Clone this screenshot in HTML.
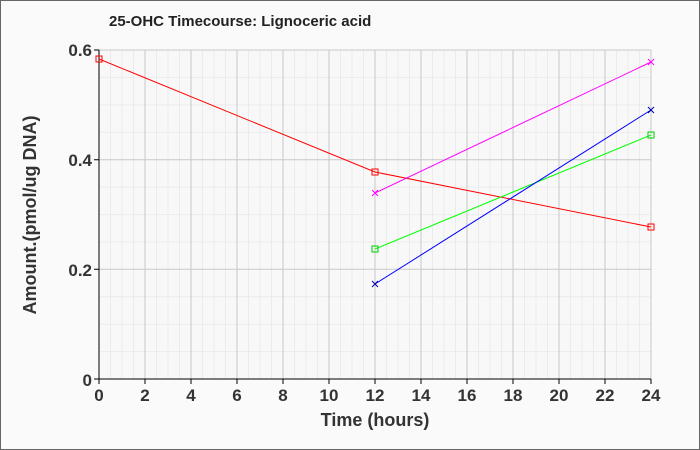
<!DOCTYPE html><html><head><style>body{margin:0;background:#fafafa}svg{display:block}</style></head><body>
<svg width="700" height="450" xmlns="http://www.w3.org/2000/svg" font-family="Liberation Sans, sans-serif">
<rect x="0.5" y="0.5" width="699" height="449" fill="#fafafa" stroke="#666"/>
<rect x="99" y="50" width="552" height="329" fill="#f8f8f8"/>
<g stroke="#ebebeb">
<path d="M110.5,50V379M122,50V379M133.5,50V379M156.5,50V379M168,50V379M179.5,50V379M202.5,50V379M214,50V379M225.5,50V379M248.5,50V379M260,50V379M271.5,50V379M294.5,50V379M306,50V379M317.5,50V379M340.5,50V379M352,50V379M363.5,50V379M386.5,50V379M398,50V379M409.5,50V379M432.5,50V379M444,50V379M455.5,50V379M478.5,50V379M490,50V379M501.5,50V379M524.5,50V379M536,50V379M547.5,50V379M570.5,50V379M582,50V379M593.5,50V379M616.5,50V379M628,50V379M639.5,50V379"/>
<path d="M99,351.6H651M99,324.2H651M99,296.8H651M99,242H651M99,214.6H651M99,187.1H651M99,132.3H651M99,104.9H651M99,77.4H651"/>
</g>
<g stroke="#c8c8c8">
<path d="M145,50V379M191,50V379M237,50V379M283,50V379M329,50V379M375,50V379M421,50V379M467,50V379M513,50V379M559,50V379M605,50V379M651,50V379"/>
<path d="M99,269.3H651M99,159.7H651M99,50H651"/>
</g>
<g stroke="#000">
<path d="M99,379v5M145,379v5M191,379v5M237,379v5M283,379v5M329,379v5M375,379v5M421,379v5M467,379v5M513,379v5M559,379v5M605,379v5M651,379v5"/>
<path d="M94,379h5M94,269.3h5M94,159.7h5M94,50h5"/>
</g>
<g font-size="17" font-weight="bold" fill="#333" text-anchor="middle">
<text x="99" y="401">0</text><text x="145" y="401">2</text><text x="191" y="401">4</text><text x="237" y="401">6</text><text x="283" y="401">8</text><text x="329" y="401">10</text><text x="375" y="401">12</text><text x="421" y="401">14</text><text x="467" y="401">16</text><text x="513" y="401">18</text><text x="559" y="401">20</text><text x="605" y="401">22</text><text x="651" y="401">24</text>
</g>
<g font-size="17" font-weight="bold" fill="#333" text-anchor="end">
<text x="92" y="386">0</text><text x="92" y="276">0.2</text><text x="92" y="166">0.4</text><text x="92" y="56">0.6</text>
</g>
<line x1="99" y1="50" x2="99" y2="379" stroke="#000"/>
<line x1="99" y1="379" x2="651" y2="379" stroke="#000"/>
<text x="109" y="26" font-size="15" font-weight="bold" fill="#222">25-OHC Timecourse: Lignoceric acid</text>
<text x="375" y="426" text-anchor="middle" font-size="18" font-weight="bold" fill="#333">Time (hours)</text>
<text transform="translate(36,215) rotate(-90)" text-anchor="middle" font-size="18" font-weight="bold" fill="#333">Amount.(pmol/ug DNA)</text>
<g fill="none" stroke-width="1">
<polyline points="99,59 375,172 651,227" stroke="#f00"/>
<rect x="96" y="56" width="6" height="6" stroke="#f00"/><rect x="372" y="169" width="6" height="6" stroke="#f00"/><rect x="648" y="224" width="6" height="6" stroke="#f00"/>
<polyline points="375,193 651,62" stroke="#f0f"/>
<path d="M372,190l6,6M378,190l-6,6M648,59l6,6M654,59l-6,6" stroke="#f0f"/>
<polyline points="375,249 651,135" stroke="#0f0"/>
<rect x="372" y="246" width="6" height="6" stroke="#0c0"/><rect x="648" y="132" width="6" height="6" stroke="#0c0"/>
<polyline points="375,284 651,110" stroke="#00f"/>
<path d="M372,281l6,6M378,281l-6,6M648,107l6,6M654,107l-6,6" stroke="#00a"/>
</g>
</svg></body></html>
